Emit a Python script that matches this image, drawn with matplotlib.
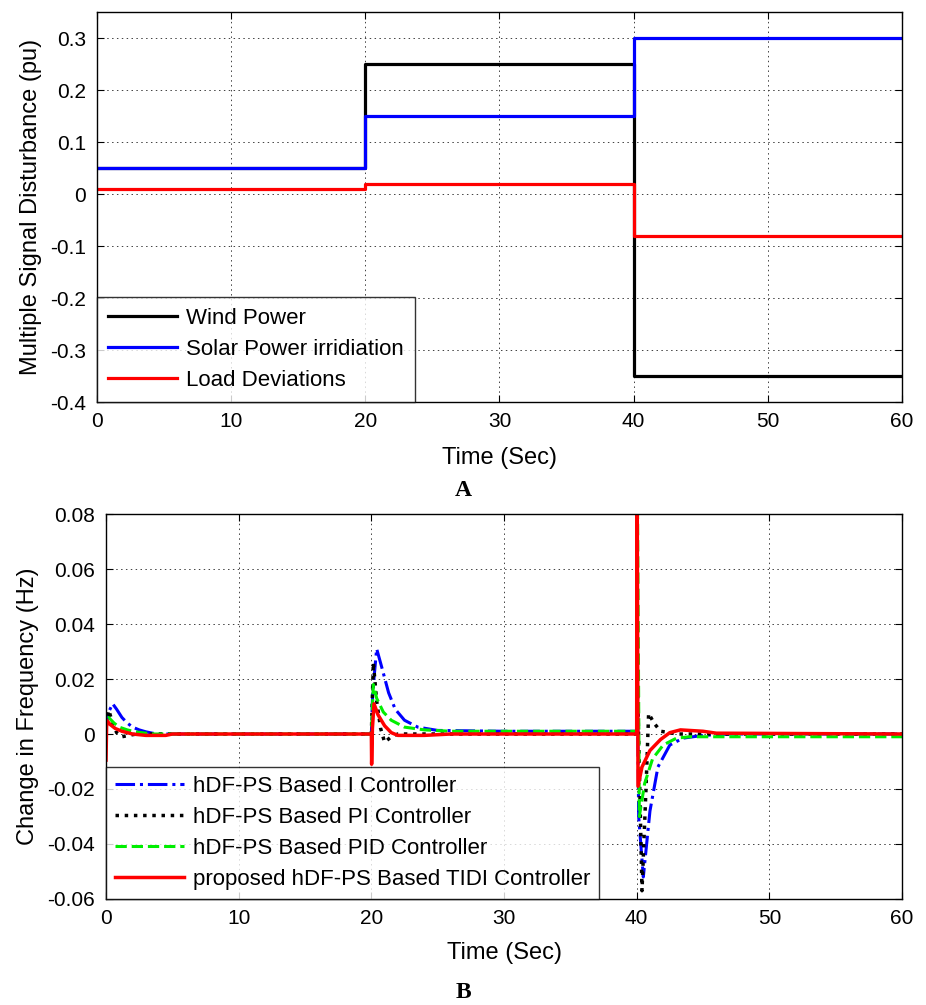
import matplotlib
matplotlib.use("Agg")
import matplotlib.pyplot as plt

plt.rcParams['font.family'] = ['Liberation Sans', 'DejaVu Sans']
plt.rcParams['font.size'] = 15

# --- panel A: disturbance steps (pu) ---
step_t = [0, 20, 40, 60]
wind = [0.05, 0.25, -0.35, -0.35]
solar = [0.05, 0.15, 0.30, 0.30]
load = [0.01, 0.02, -0.08, -0.08]

# --- panel B: frequency deviation (Hz) ---
t_i = [0, 0.05, 0.2, 0.5, 0.8, 1.2, 1.6, 2.0, 2.5, 3.0, 3.5, 4.0,
       20, 20.1, 20.4, 20.8, 21.3, 21.8, 22.5, 23.5, 25, 30, 40,
       40.05, 40.15, 40.5, 41.0, 41.6, 42.5, 43.5, 45, 47, 60]
f_i = [0, 0.004, 0.008, 0.011, 0.009, 0.006, 0.004, 0.0025, 0.0015, 0.0008, 0.0003, 0,
       0, 0.015, 0.031, 0.024, 0.015, 0.009, 0.005, 0.0025, 0.0013, 0.001, 0.001,
       0.02, -0.03, -0.052, -0.028, -0.012, -0.004, -0.0015, -0.0005, 0, 0]

t_pi = [0, 0.05, 0.2, 0.5, 0.8, 1.2, 1.7, 2.3, 3.0,
        20, 20.15, 20.4, 20.7, 21.0, 21.5, 22.0, 40,
        40.05, 40.4, 40.7, 40.9, 41.3, 41.8, 42.5, 43.0, 60]
f_pi = [0, 0.005, 0.0087, 0.004, 0.0005, -0.001, -0.0005, 0, 0,
        0, 0.026, 0.012, 0.002, -0.003, -0.001, 0, 0,
        0.02, -0.057, -0.02, 0.0075, 0.004, 0.001, 0.0005, 0, 0]

t_pid = [0, 0.05, 0.2, 0.6, 1.0, 1.6, 2.2, 3.0, 3.7,
         20, 20.15, 20.4, 20.9, 21.5, 22.5, 24, 26, 40,
         40.02, 40.2, 40.6, 41.2, 42.0, 43.0, 44.0, 60]
f_pid = [0, 0.004, 0.006, 0.004, 0.0025, 0.0015, 0.0008, 0.0003, 0,
         0, 0.018, 0.013, 0.008, 0.005, 0.0025, 0.0015, 0.001, 0.001,
         0.12, -0.03, -0.018, -0.009, -0.004, -0.0015, -0.001, -0.001]

t_tidi = [0, 0.05, 0.3, 0.7, 1.2, 2.0, 3.0, 4.5, 5.0,
          20, 20.02, 20.08, 20.2, 20.5, 21.0, 21.5, 22.0, 24, 26,
          40, 40.02, 40.1, 40.4, 41.0, 41.8, 42.5, 43.3, 45, 46, 60]
f_tidi = [-0.0095, 0.005, 0.0035, 0.002, 0.001, 0, -0.0005, -0.0005, 0,
          0, -0.011, 0.002, 0.011, 0.007, 0.003, 0.0005, -0.0005, -0.0005, 0,
          0, 0.12, -0.019, -0.012, -0.006, -0.002, 0.0005, 0.0015, 0.001, 0.0003, 0]

x_ticks = [0, 10, 20, 30, 40, 50, 60]
y_ticks_a = [-0.4, -0.3, -0.2, -0.1, 0, 0.1, 0.2, 0.3]
y_ticks_b = [-0.06, -0.04, -0.02, 0, 0.02, 0.04, 0.06, 0.08]


def style_axes(ax, xpad):
    ax.set_xlim(0, 60)
    ax.set_xticks(x_ticks)
    ax.grid(True, color='0.25', linestyle=(0, (1.5, 3.5)), linewidth=0.7)
    ax.tick_params(direction='in', top=True, right=True, length=5, labelsize=15)
    ax.tick_params(axis='x', pad=7)
    ax.tick_params(axis='y', pad=8)
    for sp in ax.spines.values():
        sp.set_linewidth(1.0)
    ax.set_xlabel('Time (Sec)', fontsize=17, labelpad=xpad)


fig = plt.figure(figsize=(9.26, 10.05), dpi=100)

ax1 = fig.add_axes([0.1047, 0.600, 0.8694, 0.388])
ax1.plot(step_t, wind, drawstyle='steps-post', color='black', lw=2.3, label='Wind Power')
ax1.plot(step_t, solar, drawstyle='steps-post', color='blue', lw=2.3, label='Solar Power irridiation')
ax1.plot(step_t, load, drawstyle='steps-post', color='red', lw=2.3, label='Load Deviations')
style_axes(ax1, 12)
ax1.set_ylim(-0.4, 0.35)
ax1.set_yticks(y_ticks_a)
ax1.set_yticklabels(['-0.4', '-0.3', '-0.2', '-0.1', '0', '0.1', '0.2', '0.3'])
ax1.set_ylabel('Multiple Signal Disturbance (pu)', fontsize=17, labelpad=6)
leg1 = ax1.legend(loc='lower left', fontsize=16, frameon=True, fancybox=False,
                  edgecolor='black', borderaxespad=0, handlelength=3.1,
                  labelspacing=0.45, borderpad=0.5, handletextpad=0.4)
leg1.get_frame().set_linewidth(1.0)

ax2 = fig.add_axes([0.1145, 0.1055, 0.8596, 0.383])
ax2.plot(t_i, f_i, color='blue', ls='-.', lw=2.2, label='hDF-PS Based I Controller')
ax2.plot(t_pi, f_pi, color='black', ls=':', lw=2.5, label='hDF-PS Based PI Controller')
ax2.plot(t_pid, f_pid, color='#00ee00', ls='--', lw=2.2, label='hDF-PS Based PID Controller')
ax2.plot(t_tidi, f_tidi, color='red', ls='-', lw=2.5, label='proposed hDF-PS Based TIDI Controller')
style_axes(ax2, 10)
ax2.set_ylim(-0.06, 0.08)
ax2.set_yticks(y_ticks_b)
ax2.set_yticklabels(['-0.06', '-0.04', '-0.02', '0', '0.02', '0.04', '0.06', '0.08'])
ax2.set_ylabel('Change in Frequency (Hz)', fontsize=17, labelpad=6)
leg2 = ax2.legend(loc='lower left', fontsize=16, frameon=True, fancybox=False,
                  edgecolor='black', borderaxespad=0, handlelength=3.1,
                  labelspacing=0.45, borderpad=0.4, handletextpad=0.4)
leg2.get_frame().set_linewidth(1.0)
leg2.set_zorder(5)

fig.text(0.5, 1 - 490 / 1005, 'A', ha='center', va='center', fontsize=17,
         fontweight='bold', family='Liberation Serif')
fig.text(0.5, 1 - 992 / 1005, 'B', ha='center', va='center', fontsize=17,
         fontweight='bold', family='Liberation Serif')

fig.savefig('out.png', dpi=100)
